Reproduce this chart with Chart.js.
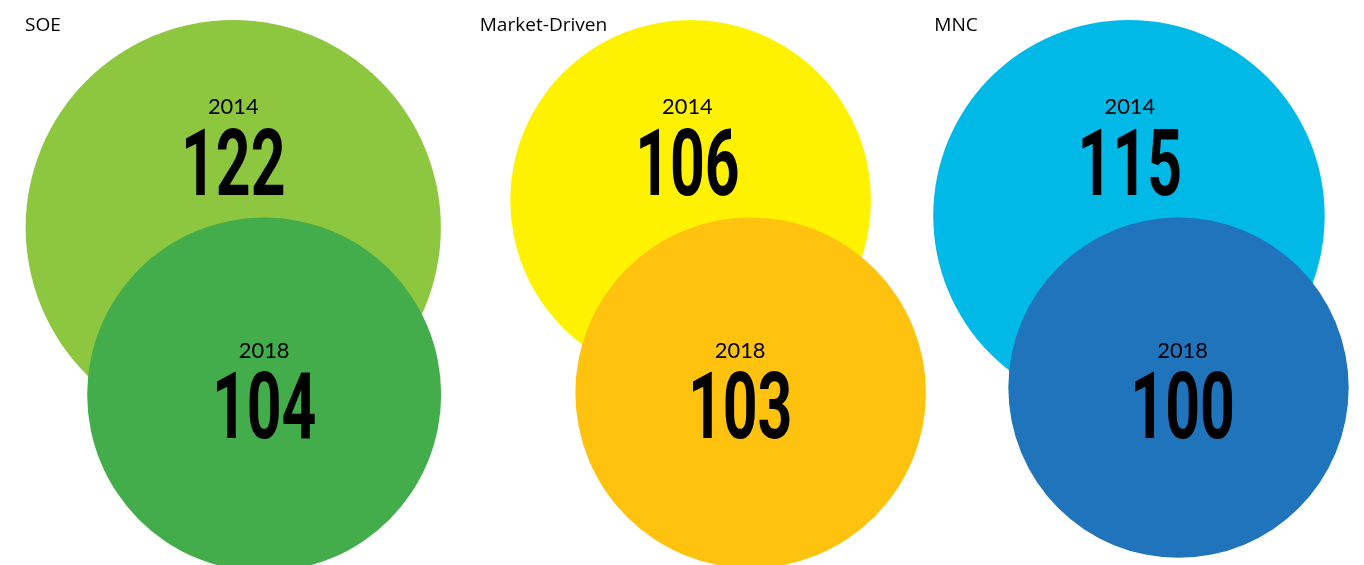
<!DOCTYPE html>
<html lang="en">
<head>
  <meta charset="UTF-8">
  <title>SOE, Market-Driven and MNC: 2014 vs 2018</title>
  <script src="https://cdn.jsdelivr.net/npm/chart.js"></script>
  <style>
    html, body { margin: 0; padding: 0; background: #ffffff; }
    .chart-container { position: relative; width: 1364px; height: 565px; }
  </style>
</head>
<body>
  <div class="chart-container">
    <canvas id="bubbleChart"></canvas>
  </div>

  <script>
    const groups = ['SOE', 'Market-Driven', 'MNC'];
    const years = ['2014', '2018'];
    const values2014 = [122, 106, 115];
    const values2018 = [104, 103, 100];
    const colors2014 = ['#8dc63f', '#fff200', '#00b9e7'];
    const colors2018 = ['#42ad4a', '#fec20f', '#1f74bc'];

    // layout: x in group units, y in value units (so a circle's radius is its value)
    const xPos2014 = [0.513, 1.519, 2.483];
    const xPos2018 = [0.581, 1.651, 2.592];
    const labelShift = [[0, -0.007, 0.002], [0, -0.023, 0.009]];
    const rowTop = [11.75, 127.8];
    const yearLabelY = [67.2, 210.2];
    const valueLabelY = [114.6, 257.2];
    const titleY = 18.2;
    const titleShift = 0.055;

    function buildPoints(values, xPos, row) {
      return values.map((v, i) => ({ x: xPos[i], y: rowTop[row] + v, r: 0, v: v }));
    }

    // draw text squeezed or stretched horizontally
    function scaledText(ctx, text, px, py, sx, font, align) {
      ctx.save();
      ctx.translate(px, py);
      ctx.scale(sx, 1);
      ctx.font = font;
      ctx.textAlign = align;
      ctx.fillText(text, 0, 0);
      ctx.restore();
    }

    const labelPlugin = {
      id: 'bubbleLabels',
      afterDatasetsDraw(chart) {
        const { ctx, scales: { x, y } } = chart;
        ctx.save();
        ctx.fillStyle = '#000000';
        ctx.textBaseline = 'alphabetic';

        // group titles
        groups.forEach((g, i) => {
          scaledText(ctx, g, x.getPixelForValue(i + titleShift), y.getPixelForValue(titleY),
            1.09, '17.5px "Open Sans"', 'left');
        });

        // year + value inside each circle
        chart.data.datasets.forEach((ds, di) => {
          const meta = chart.getDatasetMeta(di);
          meta.data.forEach((el, i) => {
            const lx = x.getPixelForValue(ds.data[i].x + labelShift[ds.row][i]);
            scaledText(ctx, ds.label, lx, y.getPixelForValue(yearLabelY[ds.row]),
              1.04, '21px Lato', 'center');
            scaledText(ctx, String(ds.data[i].v), lx, y.getPixelForValue(valueLabelY[ds.row]),
              0.66, 'bold 92px Roboto', 'center');
          });
        });
        ctx.restore();
      }
    };

    const chart = new Chart(document.getElementById('bubbleChart'), {
      type: 'bubble',
      data: {
        datasets: [
          {
            label: years[0],
            row: 0,
            order: 2,
            data: buildPoints(values2014, xPos2014, 0),
            backgroundColor: colors2014,
            borderWidth: 0,
            clip: false
          },
          {
            label: years[1],
            row: 1,
            order: 1,
            data: buildPoints(values2018, xPos2018, 1),
            backgroundColor: colors2018,
            borderWidth: 0,
            clip: false
          }
        ]
      },
      options: {
        responsive: true,
        maintainAspectRatio: false,
        animation: false,
        events: [],
        layout: { padding: 0, autoPadding: false },
        elements: {
          point: { hoverRadius: 0, borderWidth: 0 }
        },
        scales: {
          x: { type: 'linear', min: 0, max: 3, display: false },
          y: { type: 'linear', min: 0, max: 332, reverse: true, display: false }
        },
        plugins: {
          legend: { display: false },
          tooltip: { enabled: false }
        }
      },
      plugins: [labelPlugin]
    });

    // bubble radius = the value measured on the y scale, in pixels
    const yScale = chart.scales.y;
    chart.data.datasets.forEach(ds => {
      ds.data.forEach(p => {
        p.r = Math.abs(yScale.getPixelForValue(p.v) - yScale.getPixelForValue(0));
      });
    });
    chart.update();
  </script>
</body>
</html>
